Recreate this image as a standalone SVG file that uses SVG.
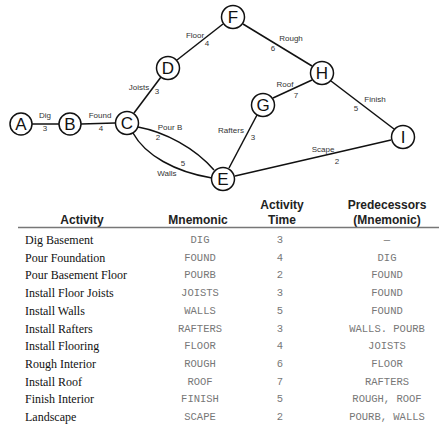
<svg xmlns="http://www.w3.org/2000/svg" width="439" height="434" viewBox="0 0 439 434">
<style>
.n circle{fill:#fff;stroke:#111;stroke-width:1.5}
.n text{font-family:"Liberation Sans",Arial,sans-serif;font-size:17px;fill:#111;text-anchor:middle}
.e{fill:none;stroke:#111;stroke-width:1.5}
.l{font-family:"Liberation Sans",Arial,sans-serif;font-size:8px;fill:#333;text-anchor:middle}
.h{font-family:"Liberation Sans",Arial,sans-serif;font-size:12px;font-weight:bold;fill:#222;text-anchor:middle}
.a{font-family:"Liberation Serif","Times New Roman",serif;font-size:12px;fill:#111}
.m{font-family:"Liberation Mono","Courier New",monospace;font-size:10.5px;fill:#777;text-anchor:middle}
</style>
<rect width="439" height="434" fill="#fff"/>
<g id="connectors">
<line class="e" x1="32" y1="124" x2="59" y2="124"/>
<line class="e" x1="81" y1="124" x2="115" y2="123"/>
<line class="e" x1="134" y1="113" x2="161" y2="77"/>
<line class="e" x1="177" y1="60" x2="223" y2="24"/>
<line class="e" x1="243" y1="24" x2="312" y2="66"/>
<line class="e" x1="273" y1="98" x2="312" y2="80"/>
<line class="e" x1="331" y1="81" x2="394" y2="129"/>
<line class="e" x1="229" y1="168" x2="257" y2="115"/>
<line class="e" x1="235" y1="176" x2="391" y2="140"/>
<path class="e" d="M138,127 C165,132 195,148 214,170"/>
<path class="e" d="M133,133 C145,155 175,172 212,178"/>
<text class="l" x="45" y="118">Dig</text><text class="l" x="45" y="131">3</text>
<text class="l" x="100" y="118">Found</text><text class="l" x="101" y="131">4</text>
<text class="l" x="139" y="90">Joists</text><text class="l" x="157" y="94">3</text>
<text class="l" x="195" y="38">Floor</text><text class="l" x="207" y="46">4</text>
<text class="l" x="170" y="130">Pour B</text><text class="l" x="158" y="140">2</text>
<text class="l" x="183" y="166">5</text><text class="l" x="167" y="176">Walls</text>
<text class="l" x="291" y="41">Rough</text><text class="l" x="273" y="51">6</text>
<text class="l" x="285" y="87">Roof</text><text class="l" x="296" y="98">7</text>
<text class="l" x="375" y="102">Finish</text><text class="l" x="356" y="111">5</text>
<text class="l" x="231" y="133">Rafters</text><text class="l" x="253" y="140">3</text>
<text class="l" x="323" y="152">Scape</text><text class="l" x="337" y="164">2</text>
</g>
<g id="A" class="n"><circle cx="21" cy="124" r="11"/><text x="21" y="130">A</text></g>
<g id="B" class="n"><circle cx="70" cy="124" r="11"/><text x="70" y="130">B</text></g>
<g id="C" class="n"><circle cx="127" cy="123" r="11.5"/><text x="127" y="129">C</text></g>
<g id="D" class="n"><circle cx="168" cy="68" r="11.5"/><text x="168" y="74">D</text></g>
<g id="F" class="n"><circle cx="233" cy="17" r="11.5"/><text x="233" y="23">F</text></g>
<g id="H" class="n"><circle cx="322" cy="73" r="11.5"/><text x="322" y="79">H</text></g>
<g id="G" class="n"><circle cx="263" cy="105" r="11.5"/><text x="263" y="111">G</text></g>
<g id="I" class="n"><circle cx="403" cy="137" r="11.5"/><text x="403" y="143">I</text></g>
<g id="E" class="n"><circle cx="223" cy="179" r="11.5"/><text x="223" y="185">E</text></g>
<g id="table">
<text class="h" x="82" y="224">Activity</text>
<text class="h" x="198" y="224">Mnemonic</text>
<text class="h" x="282" y="209">Activity</text><text class="h" x="282" y="224">Time</text>
<text class="h" x="387" y="209">Predecessors</text><text class="h" x="387" y="224">(Mnemonic)</text>
<line x1="18" y1="227.5" x2="439" y2="227.5" stroke="#777" stroke-width="1.5"/>
<text class="a" x="25" y="244">Dig Basement</text>
<text class="a" x="25" y="261.7">Pour Foundation</text>
<text class="a" x="25" y="279.4">Pour Basement Floor</text>
<text class="a" x="25" y="297.1">Install Floor Joists</text>
<text class="a" x="25" y="314.8">Install Walls</text>
<text class="a" x="25" y="332.5">Install Rafters</text>
<text class="a" x="25" y="350.2">Install Flooring</text>
<text class="a" x="25" y="367.9">Rough Interior</text>
<text class="a" x="25" y="385.6">Install Roof</text>
<text class="a" x="25" y="403.3">Finish Interior</text>
<text class="a" x="25" y="421">Landscape</text>
<text class="m" x="200" y="243">DIG</text>
<text class="m" x="200" y="260.7">FOUND</text>
<text class="m" x="200" y="278.4">POURB</text>
<text class="m" x="200" y="296.1">JOISTS</text>
<text class="m" x="200" y="313.8">WALLS</text>
<text class="m" x="200" y="331.5">RAFTERS</text>
<text class="m" x="200" y="349.2">FLOOR</text>
<text class="m" x="200" y="366.9">ROUGH</text>
<text class="m" x="200" y="384.6">ROOF</text>
<text class="m" x="200" y="402.3">FINISH</text>
<text class="m" x="200" y="420">SCAPE</text>
<text class="m" x="280" y="243">3</text>
<text class="m" x="280" y="260.7">4</text>
<text class="m" x="280" y="278.4">2</text>
<text class="m" x="280" y="296.1">3</text>
<text class="m" x="280" y="313.8">5</text>
<text class="m" x="280" y="331.5">3</text>
<text class="m" x="280" y="349.2">4</text>
<text class="m" x="280" y="366.9">6</text>
<text class="m" x="280" y="384.6">7</text>
<text class="m" x="280" y="402.3">5</text>
<text class="m" x="280" y="420">2</text>
<text class="m" x="387" y="243">—</text>
<text class="m" x="387" y="260.7">DIG</text>
<text class="m" x="387" y="278.4">FOUND</text>
<text class="m" x="387" y="296.1">FOUND</text>
<text class="m" x="387" y="313.8">FOUND</text>
<text class="m" x="387" y="331.5">WALLS. POURB</text>
<text class="m" x="387" y="349.2">JOISTS</text>
<text class="m" x="387" y="366.9">FLOOR</text>
<text class="m" x="387" y="384.6">RAFTERS</text>
<text class="m" x="387" y="402.3">ROUGH, ROOF</text>
<text class="m" x="387" y="420">POURB, WALLS</text>
</g>
</svg>
